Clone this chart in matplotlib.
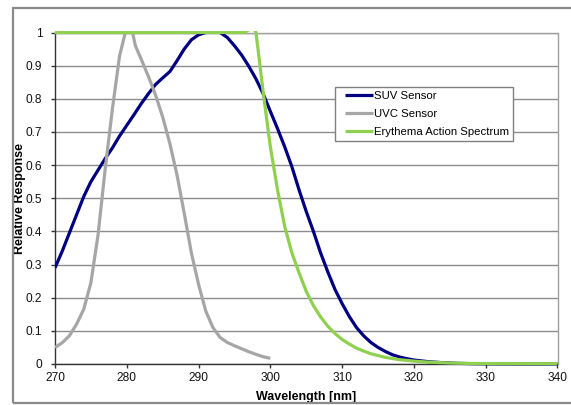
import matplotlib
matplotlib.use("Agg")
import matplotlib.pyplot as plt
from matplotlib.patches import Rectangle
from matplotlib.transforms import Bbox, TransformedBbox
from matplotlib.legend_handler import HandlerLine2D
import numpy as np

plt.rcParams['font.family'] = ['Liberation Sans', 'DejaVu Sans']

# ---- data ----
suv_wl = [270, 271, 272, 273, 274, 275, 276, 277, 278, 279, 280, 281, 282, 283,
          284, 285, 286, 287, 288, 289, 290, 291, 292, 293, 294, 295, 296, 297,
          298, 299, 300, 301, 302, 303, 304, 305, 306, 307, 308, 309, 310, 311,
          312, 313, 314, 315, 316, 317, 318, 319, 320, 322, 324, 326, 328, 330,
          335, 340]
suv_val = [0.29, 0.34, 0.395, 0.45, 0.505, 0.55, 0.585, 0.62, 0.652, 0.688, 0.72,
           0.752, 0.785, 0.815, 0.843, 0.863, 0.882, 0.915, 0.95, 0.978, 0.993,
           1.0, 1.003, 1.0, 0.985, 0.96, 0.932, 0.898, 0.86, 0.815, 0.762, 0.71,
           0.655, 0.595, 0.525, 0.46, 0.4, 0.335, 0.278, 0.225, 0.182, 0.143,
           0.11, 0.085, 0.065, 0.05, 0.038, 0.028, 0.021, 0.016, 0.012, 0.007,
           0.004, 0.002, 0.001, 0.0005, 0.0, 0.0]

uvc_wl = [270, 271, 272, 273, 274, 275, 276, 277, 278, 279, 279.8, 280.3, 280.8,
          281.2, 282, 283, 284, 285, 286, 287, 288, 289, 290, 291, 292, 293, 294,
          295, 296, 297, 298, 299, 300]
uvc_val = [0.05, 0.064, 0.085, 0.12, 0.165, 0.245, 0.39, 0.59, 0.77, 0.93, 1.0,
           1.005, 1.0, 0.96, 0.92, 0.868, 0.812, 0.745, 0.665, 0.57, 0.455, 0.335,
           0.24, 0.16, 0.11, 0.08, 0.065, 0.055, 0.046, 0.037, 0.029, 0.022, 0.017]

ery_wl = [270, 275, 280, 285, 290, 295, 296.4, 297, 297.6, 298, 299, 300, 301,
          302, 303, 304, 305, 306, 307, 308, 309, 310, 311, 312, 313, 314, 316,
          318, 320, 322, 325, 328, 330, 335, 340]
ery_val = [1.0, 1.0, 1.0, 1.0, 1.0, 1.0, 1.0, 1.008, 1.016, 1.0, 0.82, 0.655,
           0.525, 0.415, 0.335, 0.275, 0.219, 0.176, 0.142, 0.114, 0.092, 0.074,
           0.06, 0.048, 0.039, 0.031, 0.02, 0.013, 0.0087, 0.0057, 0.0029, 0.0015,
           0.0014, 0.0011, 0.0009]

series_names = ["SUV Sensor", "UVC Sensor", "Erythema Action Spectrum"]
series_colors = ["#000080", "#A6A6A6", "#8FD14F"]

x_ticks = [270, 280, 290, 300, 310, 320, 330, 340]
y_ticks = [0, 0.1, 0.2, 0.3, 0.4, 0.5, 0.6, 0.7, 0.8, 0.9, 1]
y_tick_labels = ["0", "0.1", "0.2", "0.3", "0.4", "0.5", "0.6", "0.7", "0.8", "0.9", "1"]

# ---- figure ----
W, H = 571, 405
fig = plt.figure(figsize=(W / 100, H / 100), dpi=100)
fig.patch.set_facecolor("white")

# outer chart frame
fig.patches.append(Rectangle((12.5 / W, 2.5 / H), 1.2, (403 - 8.5) / H,
                             transform=fig.transFigure, fill=False,
                             edgecolor="#8a8a8a", linewidth=1.6, zorder=0))

ax_w_px = 557.5 - 55
ax_h_px = 364 - 32.5
ax = fig.add_axes([55 / W, (H - 364) / H, ax_w_px / W, ax_h_px / H])

clip = TransformedBbox(Bbox([[0, -0.01], [1, 1 + 1.7 / ax_h_px]]), ax.transAxes)
for wl, val, name, col in zip([suv_wl, uvc_wl, ery_wl], [suv_val, uvc_val, ery_val],
                              series_names, series_colors):
    ln, = ax.plot(wl, val, color=col, lw=2.3, label=name, solid_joinstyle="round",
                  solid_capstyle="butt", zorder=3)
    ln.set_clip_box(clip)

ax.set_xlim(270, 340)
ax.set_ylim(0, 1)
ax.set_xticks(x_ticks)
ax.set_xticklabels([str(t) for t in x_ticks])
ax.set_yticks(y_ticks)
ax.set_yticklabels(y_tick_labels)

ax.yaxis.grid(True, color="#8c8c8c", linewidth=1.0)
ax.set_axisbelow(True)

for s in ["top", "right"]:
    ax.spines[s].set_color("#a0a0a0")
    ax.spines[s].set_linewidth(1.0)
for s in ["left", "bottom"]:
    ax.spines[s].set_color("#333333")
    ax.spines[s].set_linewidth(1.0)

ax.tick_params(axis="both", direction="out", length=3, width=1.0,
               color="#333333", labelsize=8.6, labelcolor="#111111")
ax.tick_params(axis="y", pad=6)
ax.tick_params(axis="x", pad=3)

ax.set_xlabel("Wavelength [nm]", fontsize=9, fontweight="bold", labelpad=5)
ax.set_ylabel("Relative Response", fontsize=9, fontweight="bold")
ax.yaxis.set_label_coords((26.5 - 55) / ax_w_px, 0.5)

leg_fs = 8.2
leg = ax.legend(loc="upper left", bbox_to_anchor=((335 - 55) / ax_w_px,
                                                   (364 - 87) / ax_h_px),
                frameon=True, fancybox=False, shadow=False, fontsize=leg_fs,
                handlelength=2.98, handletextpad=0.1, borderpad=0.355,
                labelspacing=0.7, borderaxespad=0,
                handler_map={plt.Line2D: HandlerLine2D(xpad=0.525)})
leg.get_frame().set_edgecolor("#808080")
leg.get_frame().set_linewidth(1.0)
leg.get_frame().set_alpha(1.0)
leg.set_zorder(5)

fig.savefig("out.png", dpi=100, facecolor="white")
